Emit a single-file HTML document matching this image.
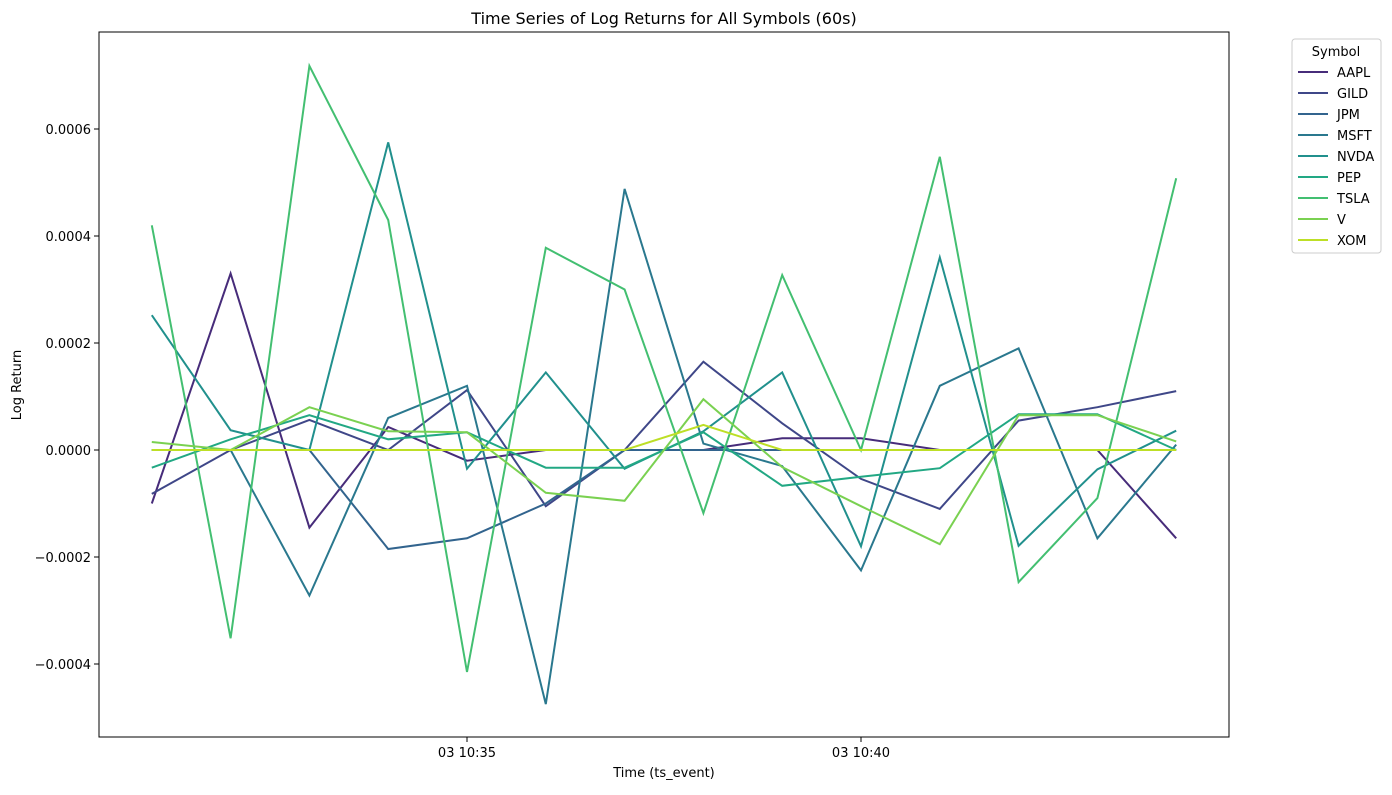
<!DOCTYPE html>
<html><head><meta charset="utf-8"><style>
body{margin:0;background:#fff;font-family:"Liberation Sans","DejaVu Sans",sans-serif;}
svg text{font-family:"DejaVu Sans","Liberation Sans",sans-serif;}
</style></head><body>
<svg id="chart" width="1392" height="790">
<text x="664" y="24" text-anchor="middle" font-size="16">Time Series of Log Returns for All Symbols (60s)</text>
<g id="axes"></g>
<g id="lines"></g>
<rect x="99" y="32" width="1130" height="705" fill="none" stroke="#000" stroke-width="1"/>
<text x="664" y="777" text-anchor="middle" font-size="13">Time (ts_event)</text>
<text x="21" y="385" text-anchor="middle" font-size="13" transform="rotate(-90 21 385)">Log Return</text>
<g id="legend">
<rect x="1292" y="39" width="89" height="214" fill="#fff" stroke="#ccc" rx="3"/>
<text x="1336" y="56" text-anchor="middle" font-size="13">Symbol</text>
</g>
</svg>
<script>
const symbols=["AAPL","GILD","JPM","MSFT","NVDA","PEP","TSLA","V","XOM"];
const colors=["#472c7a","#3f4788","#32648e","#2a788e","#21908d","#22a884","#43bf71","#7ad151","#bddf26"];
const minutes=[31,32,33,34,35,36,37,38,39,40,41,42,43,44];
const AAPL=[-0.0001,0.00033,-0.000145,0.000043,-0.00002,0,0,0,0.000022,0.000022,0,0,0,-0.000165];
const GILD=[-0.000082,0,0.000056,0,0.000112,-0.000105,0,0.000165,0.00005,-0.000054,-0.00011,0.000055,0.00008,0.00011];
const JPM=[0,0,0,-0.000185,-0.000165,-0.0001,0,0,0,0,0,0,0,0];
const MSFT=[0,0,-0.000272,0.00006,0.00012,-0.000475,0.000488,0.000012,-0.00003,-0.000225,0.00012,0.00019,-0.000165,0.00001];
const NVDA=[0.000252,0.000037,0,0.000575,-0.000035,0.000145,-0.000035,0.000035,0.000145,-0.00018,0.00036,-0.000179,-0.000036,0.000036];
const PEP=[-0.000033,0.00002,0.000065,0.00002,0.000033,-0.000033,-0.000033,0.000033,-0.000067,-0.00005,-0.000034,0.000067,0.000067,0];
const TSLA=[0.00042,-0.000352,0.000718,0.00043,-0.000415,0.000378,0.0003,-0.000118,0.000327,0,0.000548,-0.000247,-0.00009,0.000508];
const V=[0.000015,0,0.00008,0.000035,0.000033,-0.00008,-0.000095,0.000095,-0.000032,-0.000105,-0.000176,0.000065,0.000065,0.000016];
const XOM=[0,0,0,0,0,0,0,0.000047,0,0,0,0,0,0];
const series=[AAPL,GILD,JPM,MSFT,NVDA,PEP,TSLA,V,XOM];
const yTicks=[-0.0004,-0.0002,0,0.0002,0.0004,0.0006];
const yTickLabels=["\u22120.0004","\u22120.0002","0.0000","0.0002","0.0004","0.0006"];
const xTicks=[35,40];
const xTickLabels=["03 10:35","03 10:40"];
const NS="http://www.w3.org/2000/svg";
const xs=m=>467+(m-35)*78.8;
const ys=v=>450-v/0.0002*107;
const axes=document.getElementById('axes');
function mk(t,a,p){const e=document.createElementNS(NS,t);for(const k in a)e.setAttribute(k,a[k]);p.appendChild(e);return e;}
yTicks.forEach((v,i)=>{
 const y=ys(v);
 const t=mk('line',{x1:94,x2:99,y1:y,y2:y,stroke:'#000'},axes);
 
 
 const l=mk('text',{x:91,y:y+5,'text-anchor':'end','font-size':13},axes);
 l.textContent=yTickLabels[i];
 
 
});
xTicks.forEach((m,i)=>{
 const x=xs(m);
 const t=mk('line',{x1:x,x2:x,y1:737,y2:742,stroke:'#000'},axes);
 
 
 const l=mk('text',{x:x,y:757,'text-anchor':'middle','font-size':13},axes);
 l.textContent=xTickLabels[i];
 
 
});
const lines=document.getElementById('lines');
const leg=document.getElementById('legend');
series.forEach((s,i)=>{
 const pts=s.map((v,j)=>xs(minutes[j]).toFixed(1)+','+ys(v).toFixed(1)).join(' ');
 const p=mk('polyline',{points:pts,fill:'none',stroke:colors[i],'stroke-width':2},lines);
 
 
 const y=72+i*21;
 const ll=mk('line',{x1:1298,x2:1328,y1:y,y2:y,stroke:colors[i],'stroke-width':2},leg);
 
 
 const lt=mk('text',{x:1337,y:y+5,'font-size':13},leg);
 lt.textContent=symbols[i];
 
 
});
</script>
</body></html>
